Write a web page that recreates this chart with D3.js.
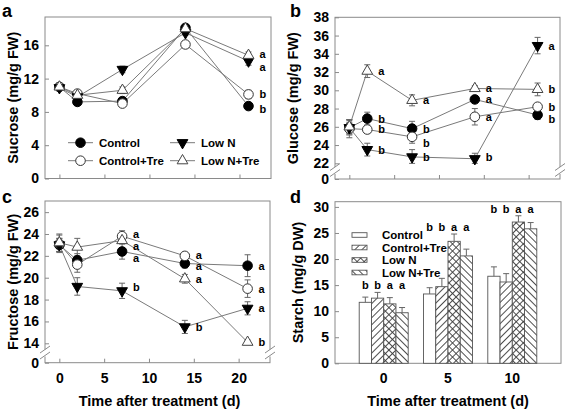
<!DOCTYPE html>
<html><head><meta charset="utf-8">
<script src="https://cdn.jsdelivr.net/npm/d3@7"></script>
<style>
body{margin:0;background:#fff;}
svg{display:block;}
</style></head><body>
<svg id="chart" width="567" height="413"></svg>
<script>
// ================= DATA =================
const days = [0, 2, 7, 14, 21];
const dayTicks = [0, 5, 10, 15, 20];
const seriesNames = ["Control", "Control+Tre", "Low N", "Low N+Tre"];

// (a) Sucrose (mg/g FW)
const sucroseTicks = [0, 4, 8, 12, 16];
const sucroseControl    = [11.0, 9.2, 9.3, 18.1, 8.7];
const sucroseControlTre = [11.0, 10.2, 9.0, 16.1, 10.1];
const sucroseLowN       = [10.9, 9.8, 13.1, 17.5, 14.1];
const sucroseLowNTre    = [11.0, 10.0, 10.6, 18.0, 14.8];
const sucroseErrControl    = [0.3, 0.4, 0.4, 0.3, 0.3];
const sucroseErrControlTre = [0.3, 0.3, 0.3, 0.4, 0.5];
const sucroseErrLowN       = [0.3, 0.4, 0.4, 0.3, 0.5];
const sucroseErrLowNTre    = [0.3, 0.3, 0.4, 0.3, 0.4];
const sucroseLetControl    = ["", "", "", "", "b"];
const sucroseLetControlTre = ["", "", "", "", "b"];
const sucroseLetLowN       = ["", "", "", "", "a"];
const sucroseLetLowNTre    = ["", "", "", "", "a"];

// (b) Glucose (mg/g FW)
const glucoseTicks = [0, 22, 24, 26, 28, 30, 32, 34, 36, 38];
const glucoseControl    = [25.9, 26.9, 25.8, 29.0, 27.3];
const glucoseControlTre = [25.8, 25.7, 24.9, 27.1, 28.2];
const glucoseLowN       = [25.9, 23.5, 22.7, 22.5, 34.9];
const glucoseLowNTre    = [26.0, 32.1, 28.9, 30.2, 30.1];
const glucoseErrControl    = [0.8, 0.7, 0.8, 0.3, 0.5];
const glucoseErrControlTre = [1.0, 0.4, 0.7, 0.9, 0.3];
const glucoseErrLowN       = [0.6, 0.7, 0.8, 0.6, 0.9];
const glucoseErrLowNTre    = [0.8, 0.7, 0.6, 0.3, 0.7];
const glucoseLetControl    = ["", "b", "b", "a", "b"];
const glucoseLetControlTre = ["", "b", "b", "a", "b"];
const glucoseLetLowN       = ["", "b", "b", "b", "a"];
const glucoseLetLowNTre    = ["", "a", "a", "a", "b"];

// (c) Fructose (mg/g FW)
const fructoseTicks = [0, 14, 16, 18, 20, 22, 24, 26];
const fructoseControl    = [23.0, 21.6, 22.4, 21.3, 21.1];
const fructoseControlTre = [23.1, 21.2, 23.8, 22.0, 19.0];
const fructoseLowN       = [23.0, 19.2, 18.8, 15.5, 17.2];
const fructoseLowNTre    = [23.2, 22.8, 23.4, 19.9, 14.1];
const fructoseErrControl    = [0.6, 0.6, 0.7, 0.4, 1.0];
const fructoseErrControlTre = [0.8, 0.7, 0.5, 0.3, 0.8];
const fructoseErrLowN       = [0.6, 0.8, 0.7, 0.6, 0.6];
const fructoseErrLowNTre    = [0.8, 0.8, 0.3, 0.4, 0.2];
const fructoseLetControl    = ["", "", "a", "a", "a"];
const fructoseLetControlTre = ["", "", "a", "a", "a"];
const fructoseLetLowN       = ["", "", "b", "b", "a"];
const fructoseLetLowNTre    = ["", "", "a", "a", "b"];

// (d) Starch (mg/g DW)
const starchDays = [0, 5, 10];
const starchTicks = [0, 5, 10, 15, 20, 25, 30];
const starchControl    = [11.7, 13.3, 16.7];
const starchControlTre = [12.5, 14.7, 15.6];
const starchLowN       = [11.4, 23.4, 27.1];
const starchLowNTre    = [9.7, 20.6, 25.8];
const starchErrControl    = [1.0, 1.2, 1.8];
const starchErrControlTre = [1.1, 1.6, 1.6];
const starchErrLowN       = [1.2, 1.4, 1.2];
const starchErrLowNTre    = [1.0, 1.3, 1.2];
const starchLetControl    = ["b", "b", "b"];
const starchLetControlTre = ["b", "b", "b"];
const starchLetLowN       = ["a", "a", "a"];
const starchLetLowNTre    = ["a", "a", "a"];

// ================= DRAWING =================
const FONT = '"Liberation Sans", Arial, Helvetica, sans-serif';
const FRAME = "#8a8a8a";
const LINE = "#7a7a7a";
const ERR = "#666";
const svg = d3.select("#chart").attr("font-family", FONT).attr("font-weight", "bold");
const defs = svg.append("defs");

function hatch(id, angle, cross) {
  const s = 5;
  const p = defs.append("pattern").attr("id", id).attr("patternUnits", "userSpaceOnUse")
    .attr("width", s).attr("height", s).attr("patternTransform", `rotate(${angle})`);
  p.append("rect").attr("width", s).attr("height", s).attr("fill", "#fff");
  p.append("line").attr("x1", s / 2).attr("y1", 0).attr("x2", s / 2).attr("y2", s)
    .attr("stroke", "#3a3a3a").attr("stroke-width", 0.9);
  if (cross) p.append("line").attr("x1", 0).attr("y1", s / 2).attr("x2", s).attr("y2", s / 2)
    .attr("stroke", "#3a3a3a").attr("stroke-width", 0.9);
}
hatch("pFwd", 45, false);
hatch("pCross", 45, true);
hatch("pBack", -45, false);

const markerStyles = [
  { type: "circle", fill: "#000", stroke: "#000" },
  { type: "circle", fill: "#fff", stroke: "#333" },
  { type: "down", fill: "#000", stroke: "#000" },
  { type: "up", fill: "#fff", stroke: "#444" }
];

function drawMarker(g, cx, cy, st) {
  if (st.type === "circle") {
    g.append("circle").attr("cx", cx).attr("cy", cy).attr("r", 4.8)
      .attr("fill", st.fill).attr("stroke", st.stroke).attr("stroke-width", 1);
  } else {
    const path = d3.symbol().type(d3.symbolTriangle).size(50)();
    g.append("path").attr("d", path)
      .attr("transform", `translate(${cx},${cy})` + (st.type === "down" ? " rotate(180)" : ""))
      .attr("fill", st.fill).attr("stroke", st.stroke).attr("stroke-width", 1);
  }
}

function breakMarks(g, x, yc) {
  g.append("line").attr("x1", x).attr("x2", x).attr("y1", yc - 3.5).attr("y2", yc + 3.5)
    .attr("stroke", "#fff").attr("stroke-width", 3);
  [[-1, -7], [5, -1]].forEach(([a, b]) => {
    g.append("line").attr("x1", x - 5).attr("y1", yc + a + 1).attr("x2", x + 5).attr("y2", yc + b)
      .attr("stroke", FRAME).attr("stroke-width", 1);
  });
}

function styleAxis(ax, size) {
  ax.attr("font-family", FONT).attr("font-size", size).attr("font-weight", "bold");
  ax.select(".domain").remove();
  ax.selectAll(".tick line").attr("stroke", FRAME);
  ax.selectAll(".tick text").attr("fill", "#000");
}

function linePanel(o) {
  const g = svg.append("g");
  const x = d3.scaleLinear().domain([-1.6, 23.5]).range([o.left, o.right]);
  const y = d3.scaleLinear().domain(o.yDomain).range(o.yRange);

  g.append("rect").attr("x", o.left).attr("y", o.top)
    .attr("width", o.right - o.left).attr("height", o.bottom - o.top)
    .attr("fill", "none").attr("stroke", FRAME).attr("stroke-width", 1);

  const ya = g.append("g").attr("transform", `translate(${o.left},0)`)
    .call(d3.axisLeft(y).tickValues(o.yTicks).tickSizeInner(-4).tickSizeOuter(0).tickPadding(6));
  styleAxis(ya, 14);

  const xa = g.append("g").attr("transform", `translate(0,${o.bottom})`)
    .call(d3.axisBottom(x).tickValues(dayTicks).tickSizeInner(-4).tickSizeOuter(0).tickPadding(10)
      .tickFormat(o.xLabels ? d3.format("d") : () => ""));
  styleAxis(xa, 14);

  if (o.breakY !== undefined) {
    breakMarks(g, o.left, o.breakY);
    breakMarks(g, o.right, o.breakY);
  }

  const line = d3.line().x((d, i) => x(days[i])).y(d => y(d));
  o.series.forEach(s => {
    g.append("path").attr("d", line(s.v)).attr("fill", "none")
      .attr("stroke", LINE).attr("stroke-width", 1);
  });
  o.series.forEach(s => {
    s.v.forEach((v, i) => {
      const cx = x(days[i]), e = s.e[i];
      g.append("line").attr("x1", cx).attr("x2", cx).attr("y1", y(v - e)).attr("y2", y(v + e))
        .attr("stroke", ERR).attr("stroke-width", 1);
      [v - e, v + e].forEach(t => g.append("line").attr("x1", cx - 3).attr("x2", cx + 3)
        .attr("y1", y(t)).attr("y2", y(t)).attr("stroke", ERR).attr("stroke-width", 1));
    });
  });
  o.series.forEach((s, k) => {
    s.v.forEach((v, i) => drawMarker(g, x(days[i]), y(v), markerStyles[k]));
  });
  o.series.forEach((s, k) => {
    s.l.forEach((t, i) => {
      if (!t) return;
      const nudge = (o.nudge[k] && o.nudge[k][i]) || 0;
      g.append("text").attr("x", x(days[i]) + 11).attr("y", y(s.v[i]) + nudge)
        .attr("dy", "0.36em").attr("font-size", 11).attr("fill", "#000").text(t);
    });
  });

  g.append("text").attr("transform", `translate(${o.titleX},${(o.top + o.bottom) / 2}) rotate(-90)`)
    .attr("text-anchor", "middle").attr("dy", "0.36em").attr("font-size", 14.5).text(o.title);
  if (o.xTitle) {
    g.append("text").attr("x", (o.left + o.right) / 2 + 2).attr("y", 406)
      .attr("text-anchor", "middle").attr("font-size", 14.5).text(o.xTitle);
  }
  g.append("text").attr("x", o.labelX).attr("y", o.labelY).attr("font-size", 18).text(o.panel);
  return { g, x, y };
}

// ---- panel a ----
const pa = linePanel({
  left: 45, right: 271, top: 17, bottom: 178.5,
  yDomain: [0, 19.4], yRange: [178.5, 17], yTicks: sucroseTicks,
  title: "Sucrose (mg/g FW)", titleX: 13, panel: "a", labelX: 2, labelY: 17,
  series: [
    { v: sucroseControl, e: sucroseErrControl, l: sucroseLetControl },
    { v: sucroseControlTre, e: sucroseErrControlTre, l: sucroseLetControlTre },
    { v: sucroseLowN, e: sucroseErrLowN, l: sucroseLetLowN },
    { v: sucroseLowNTre, e: sucroseErrLowNTre, l: sucroseLetLowNTre }
  ],
  nudge: [[0, 0, 0, 0, 3], [], [0, 0, 0, 0, 6], [0, 0, 0, 0, -1.5]]
});
// legend in a
const legPos = [[68, 142.7], [68, 160.7], [170, 142.7], [170, 160.7]];
seriesNames.forEach((n, k) => {
  const [lx, ly] = legPos[k];
  pa.g.append("line").attr("x1", lx).attr("x2", lx + 25).attr("y1", ly).attr("y2", ly)
    .attr("stroke", LINE).attr("stroke-width", 1);
  drawMarker(pa.g, lx + 12.5, ly, markerStyles[k]);
  pa.g.append("text").attr("x", lx + 31).attr("y", ly).attr("dy", "0.36em")
    .attr("font-size", 11.5).text(n);
});

// ---- panel b ----
linePanel({
  left: 335, right: 560, top: 17.3, bottom: 179,
  yDomain: [0, 22, 38], yRange: [179, 163.3, 17.3], yTicks: glucoseTicks, breakY: 170.5,
  title: "Glucose (mg/g FW)", titleX: 293, panel: "b", labelX: 290, labelY: 17,
  series: [
    { v: glucoseControl, e: glucoseErrControl, l: glucoseLetControl },
    { v: glucoseControlTre, e: glucoseErrControlTre, l: glucoseLetControlTre },
    { v: glucoseLowN, e: glucoseErrLowN, l: glucoseLetLowN },
    { v: glucoseLowNTre, e: glucoseErrLowNTre, l: glucoseLetLowNTre }
  ],
  nudge: [[0, 0, 0, 0, 4], [0, 0, 6, 0, 0], [0, 0, 0, -2, 0], []]
});

// ---- panel c ----
linePanel({
  left: 45, right: 270, top: 201, bottom: 362.7,
  yDomain: [0, 14, 27], yRange: [362.7, 343.3, 201.2], yTicks: fructoseTicks, breakY: 353,
  title: "Fructose (mg/g FW)", titleX: 13, panel: "c", labelX: 2, labelY: 203,
  xLabels: true, xTitle: "Time after treatment (d)",
  series: [
    { v: fructoseControl, e: fructoseErrControl, l: fructoseLetControl },
    { v: fructoseControlTre, e: fructoseErrControlTre, l: fructoseLetControlTre },
    { v: fructoseLowN, e: fructoseErrLowN, l: fructoseLetLowN },
    { v: fructoseLowNTre, e: fructoseErrLowNTre, l: fructoseLetLowNTre }
  ],
  nudge: [[0, 0, 7, 2.5, 0], [0, 0, -2, -1, 0], [0, 0, -4, 0, 0], [0, 0, 5.5, 0, 0]]
});

// ---- panel d (bars) ----
(function () {
  const L = 335, R = 561, T = 201.7, B = 363.3;
  const g = svg.append("g");
  const x0 = d3.scaleBand().domain(starchDays).range([L, R]).paddingInner(0.238).paddingOuter(0.3765);
  const x1 = d3.scaleBand().domain(seriesNames).range([0, x0.bandwidth()]);
  const y = d3.scaleLinear().domain([0, 31]).range([B, T]);
  const vals = [starchControl, starchControlTre, starchLowN, starchLowNTre];
  const errs = [starchErrControl, starchErrControlTre, starchErrLowN, starchErrLowNTre];
  const lets = [starchLetControl, starchLetControlTre, starchLetLowN, starchLetLowNTre];
  const fills = ["#fff", "url(#pFwd)", "url(#pCross)", "url(#pBack)"];

  g.append("rect").attr("x", L).attr("y", T).attr("width", R - L).attr("height", B - T)
    .attr("fill", "none").attr("stroke", FRAME).attr("stroke-width", 1);

  const ya = g.append("g").attr("transform", `translate(${L},0)`)
    .call(d3.axisLeft(y).tickValues(starchTicks).tickSizeInner(-4).tickSizeOuter(0).tickPadding(6));
  styleAxis(ya, 14);
  const xa = g.append("g").attr("transform", `translate(0,${B})`)
    .call(d3.axisBottom(x0).tickSize(0).tickPadding(10));
  styleAxis(xa, 14);

  starchDays.forEach((d, i) => {
    let top = 0;
    seriesNames.forEach((n, k) => {
      const bx = x0(d) + x1(n), bw = x1.bandwidth(), v = vals[k][i], e = errs[k][i];
      g.append("rect").attr("x", bx).attr("y", y(v)).attr("width", bw).attr("height", y(0) - y(v))
        .attr("fill", fills[k]).attr("stroke", "#555").attr("stroke-width", 0.9);
      const cx = bx + bw / 2;
      g.append("line").attr("x1", cx).attr("x2", cx).attr("y1", y(v)).attr("y2", y(v + e))
        .attr("stroke", ERR).attr("stroke-width", 1);
      g.append("line").attr("x1", cx - 3).attr("x2", cx + 3).attr("y1", y(v + e)).attr("y2", y(v + e))
        .attr("stroke", ERR).attr("stroke-width", 1);
      top = Math.max(top, v + e);
    });
    seriesNames.forEach((n, k) => {
      g.append("text").attr("x", x0(d) + x1(n) + x1.bandwidth() / 2).attr("y", y(top) - 3)
        .attr("text-anchor", "middle").attr("font-size", 11).text(lets[k][i]);
    });
  });

  // legend
  seriesNames.forEach((n, k) => {
    const ly = 235 + k * 12.5;
    g.append("rect").attr("x", 352).attr("y", ly - 2.3).attr("width", 15).attr("height", 4.6)
      .attr("fill", fills[k]).attr("stroke", "#555").attr("stroke-width", 0.9);
    g.append("text").attr("x", 382).attr("y", ly).attr("dy", "0.36em").attr("font-size", 11.5).text(n);
  });

  g.append("text").attr("transform", `translate(298,${(T + B) / 2}) rotate(-90)`)
    .attr("text-anchor", "middle").attr("dy", "0.36em").attr("font-size", 14.5).text("Starch (mg/g DW)");
  g.append("text").attr("x", (L + R) / 2).attr("y", 406).attr("text-anchor", "middle")
    .attr("font-size", 14.5).text("Time after treatment (d)");
  g.append("text").attr("x", 290).attr("y", 203).attr("font-size", 18).text("d");
})();
</script>
</body></html>
